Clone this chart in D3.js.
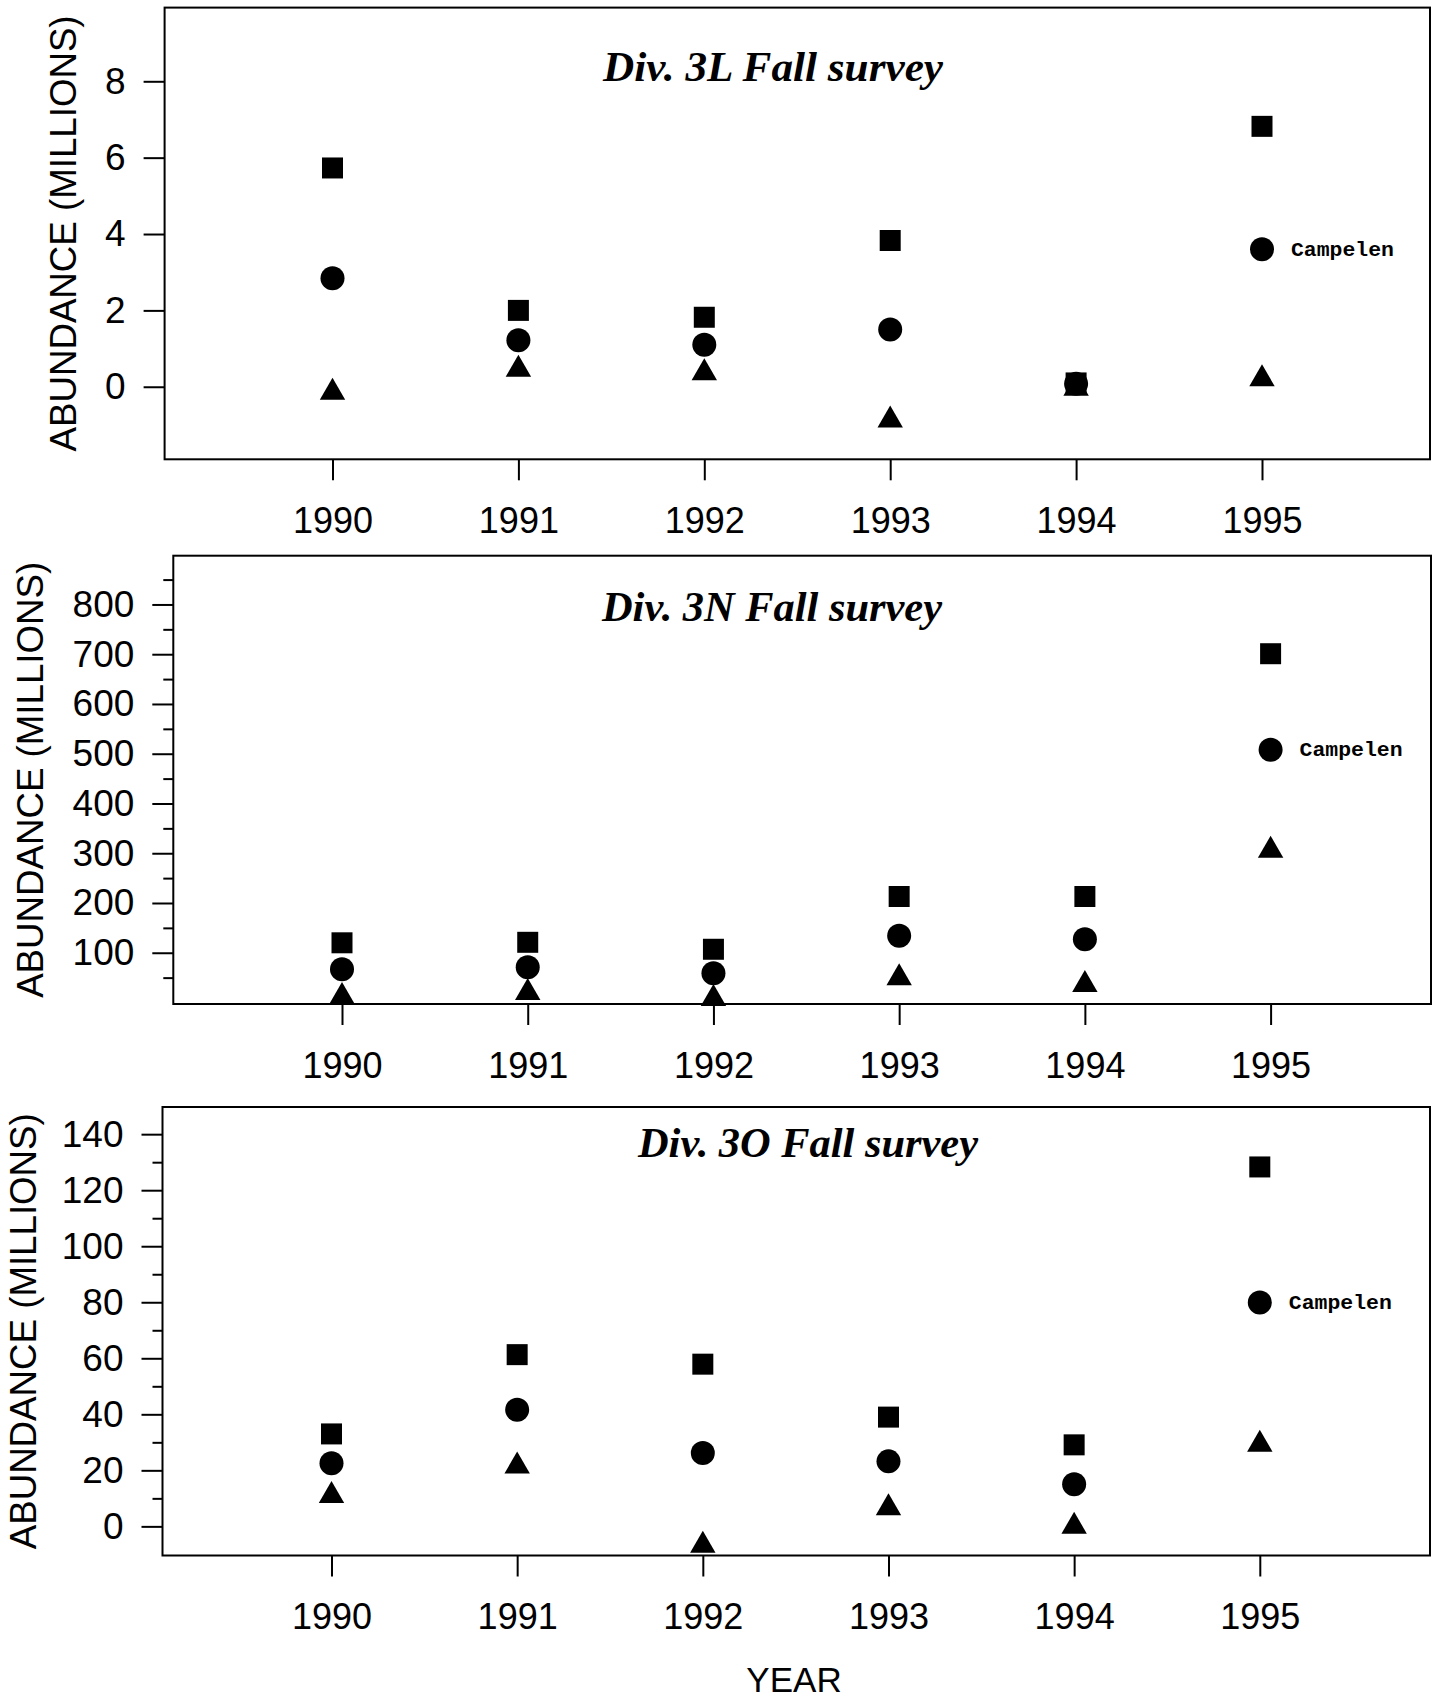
<!DOCTYPE html>
<html>
<head>
<meta charset="utf-8">
<script src="https://cdn.jsdelivr.net/npm/d3@7"></script>
<style>
  body { margin: 0; background: #fff; }
  svg { display: block; }
  .tick text { font-family: "Liberation Sans", Arial, sans-serif; }
</style>
</head>
<body>
<svg id="chart" width="1432" height="1699"></svg>
<script>
// years on the x axis
var years = [1990, 1991, 1992, 1993, 1994, 1995];

// Div. 3L
var div3L_square   = [5.73, 2.00, 1.82, 3.83, 0.10, 6.82];
var div3L_circle   = [2.84, 1.22, 1.10, 1.50, 0.08, 3.60];
var div3L_triangle = [-0.05, 0.55, 0.46, -0.78, 0.05, 0.30];
var div3L_ticks = [0, 2, 4, 6, 8];
var div3L_minor = [];

// Div. 3N
var div3N_square   = [120, 121, 107, 213, 213, 701];
var div3N_circle   = [67, 71, 59, 134, 127, 508];
var div3N_triangle = [19, 27, 15, 57, 43, 313];
var div3N_ticks = [100, 200, 300, 400, 500, 600, 700, 800];
var div3N_minor = [50, 150, 250, 350, 450, 550, 650, 750, 850];

// Div. 3O
var div3O_square   = [33.0, 61.3, 57.9, 39.0, 29.1, 128.3];
var div3O_circle   = [22.5, 41.6, 26.2, 23.2, 15.0, 79.9];
var div3O_triangle = [12.3, 22.8, -5.5, 7.9, 1.3, 30.6];
var div3O_ticks = [0, 20, 40, 60, 80, 100, 120, 140];
var div3O_minor = [10, 30, 50, 70, 90, 110, 130];

var yLabel = "ABUNDANCE (MILLIONS)";
var legendText = "Campelen";

var svg = d3.select("#chart");

var panels = [
    { title: "Div. 3L Fall survey", sq: div3L_square, ci: div3L_circle, tr: div3L_triangle,
      ticks: div3L_ticks, minor: div3L_minor, ydom: [-1.9, 9.93],
      left: 164.6, right: 1430, top: 7.6, bottom: 459.3, x0: 332.5, x1: 1262,
      titleX: 603, titleY: 81, labelX: 76 },
    { title: "Div. 3N Fall survey", sq: div3N_square, ci: div3N_circle, tr: div3N_triangle,
      ticks: div3N_ticks, minor: div3N_minor, ydom: [-3, 898],
      left: 173.3, right: 1431, top: 555.7, bottom: 1004, x0: 342, x1: 1270.6,
      titleX: 602, titleY: 621, labelX: 43 },
    { title: "Div. 3O Fall survey", sq: div3O_square, ci: div3O_circle, tr: div3O_triangle,
      ticks: div3O_ticks, minor: div3O_minor, ydom: [-10.4, 149.7],
      left: 162.5, right: 1430, top: 1107, bottom: 1555.5, x0: 331.5, x1: 1259.8,
      titleX: 638, titleY: 1157, labelX: 36 }
];

var sqSym = d3.symbol().type(d3.symbolSquare).size(441);
var ciSym = d3.symbol().type(d3.symbolCircle).size(Math.PI * 12 * 12);
var trH = 22;
var trSym = d3.symbol().type(d3.symbolTriangle).size(Math.pow(trH / 3, 2) * 3 * Math.sqrt(3));

panels.forEach(function (p) {
    var g = svg.append("g");

    var x = d3.scaleLinear().domain([1990, 1995]).range([p.x0, p.x1]);
    var y = d3.scaleLinear().domain(p.ydom).range([p.bottom, p.top]);

    // frame
    g.append("rect")
        .attr("x", p.left).attr("y", p.top)
        .attr("width", p.right - p.left).attr("height", p.bottom - p.top)
        .attr("fill", "none").attr("stroke", "#000").attr("stroke-width", 2);

    // x axis
    var xa = g.append("g")
        .attr("transform", "translate(0," + p.bottom + ")")
        .call(d3.axisBottom(x).tickValues(years).tickFormat(d3.format("d"))
            .tickSize(21).tickPadding(27));
    xa.select(".domain").remove();
    xa.selectAll(".tick line").attr("stroke-width", 2);
    xa.selectAll(".tick text").attr("font-size", 36).attr("fill", "#000");

    // y axis
    var ya = g.append("g")
        .attr("transform", "translate(" + p.left + ",0)")
        .call(d3.axisLeft(y).tickValues(p.ticks).tickSize(21).tickPadding(18));
    ya.select(".domain").remove();
    ya.selectAll(".tick line").attr("stroke-width", 2);
    ya.selectAll(".tick text").attr("font-size", 37).attr("fill", "#000");

    if (p.minor.length) {
        var ym = g.append("g")
            .attr("transform", "translate(" + p.left + ",0)")
            .call(d3.axisLeft(y).tickValues(p.minor).tickSize(10).tickFormat(""));
        ym.select(".domain").remove();
        ym.selectAll(".tick line").attr("stroke-width", 2);
    }

    // y label
    g.append("text")
        .attr("transform", "translate(" + p.labelX + "," + ((p.top + p.bottom) / 2) + ") rotate(-90)")
        .attr("text-anchor", "middle")
        .attr("font-family", "Liberation Sans, Arial, sans-serif")
        .attr("font-size", 37)
        .attr("textLength", 436).attr("lengthAdjust", "spacingAndGlyphs")
        .text(yLabel);

    // title
    g.append("text")
        .attr("x", p.titleX).attr("y", p.titleY)
        .attr("font-family", "Liberation Serif, Times New Roman, serif")
        .attr("font-weight", "bold").attr("font-style", "italic")
        .attr("font-size", 42)
        .attr("textLength", 340).attr("lengthAdjust", "spacingAndGlyphs")
        .text(p.title);

    // markers
    g.selectAll(".tr").data(p.tr).enter().append("path")
        .attr("d", trSym)
        .attr("transform", function (d, i) {
            // symbolTriangle is centred on its centroid; shift so bbox centre sits on the value
            return "translate(" + x(years[i]) + "," + (y(d) + trH / 6) + ")";
        });
    g.selectAll(".ci").data(p.ci).enter().append("path")
        .attr("d", ciSym)
        .attr("transform", function (d, i) { return "translate(" + x(years[i]) + "," + y(d) + ")"; });
    g.selectAll(".sq").data(p.sq).enter().append("path")
        .attr("d", sqSym)
        .attr("transform", function (d, i) { return "translate(" + x(years[i]) + "," + y(d) + ")"; });

    // label next to the last circle
    var last = p.ci.length - 1;
    g.append("text")
        .attr("x", x(years[last]) + 29)
        .attr("y", y(p.ci[last]))
        .attr("dy", "0.3em")
        .attr("font-family", "Liberation Mono, Courier New, monospace")
        .attr("font-weight", "bold")
        .attr("font-size", 21)
        .attr("textLength", 103).attr("lengthAdjust", "spacingAndGlyphs")
        .text(legendText);
});

svg.append("text")
    .attr("x", 794).attr("y", 1692)
    .attr("text-anchor", "middle")
    .attr("font-family", "Liberation Sans, Arial, sans-serif")
    .attr("font-size", 35)
    .text("YEAR");
</script>
</body>
</html>
